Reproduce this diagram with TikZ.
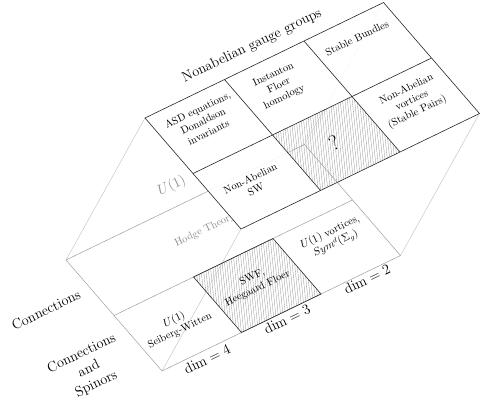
\documentclass[tikz,border=0pt]{standalone}
\usetikzlibrary{patterns.meta}
\definecolor{topline}{gray}{0.15}
\definecolor{botline}{gray}{0.62}
\definecolor{vertline}{gray}{0.78}
\definecolor{faintext}{gray}{0.55}
\begin{document}
\begin{tikzpicture}[x=1pt,y=1pt,
  celltext/.style={align=center, inner sep=0pt, rotate=25.8, font=\fontsize{10.5}{12.5}\selectfont},
  bigtext/.style={align=center, inner sep=0pt, rotate=25.8, font=\fontsize{14.2}{17}\selectfont},
  hatch/.style={pattern={Lines[angle=96,distance=2.4pt,line width=0.35pt]}, pattern color=gray!80},
  topgrid/.style={draw=topline, line width=0.6pt},
  botgrid/.style={draw=botline, line width=0.5pt},
  vedge/.style={draw=vertline, line width=0.5pt}]
\useasboundingbox (0,0) rectangle (480,-400);
\begin{scope}[shift={(145pt,-118pt)}, x={(79.5pt,38.5pt)}, y={(48pt,-55.5pt)}, z={(-79pt,-142pt)}]
\foreach \a in {0,1,2,3}{\foreach \b in {0,1,2}{
  \coordinate (t\a\b) at (\a,\b,0);
  \coordinate (b\a\b) at (\a,\b,1);}}
\end{scope}
% vertical edges
\draw[vedge] (t00) -- (b00);
\draw[vedge] (t02) -- (b02);
\draw[vedge] (t32) -- (b32);
\draw[vedge] (t30) -- (b30);
% bottom plane (U(1))
\fill[hatch] (b11) -- (b21) -- (b22) -- (b12) -- cycle;
\draw[botgrid] (b00) -- (b30) -- (b32) -- (b02) -- cycle (b01) -- (b31);
\draw[topgrid] (b11) -- (b21) -- (b22) -- (b12) -- cycle;
\node[celltext] (usw) at (177,-325) {$U(1)$\\Seiberg-Witten};
\node[celltext] (swf) at (255,-283) {SWF,\\Heegaard Floer};
\node[celltext] (uvort) at (333,-238) {$U(1)$ vortices,\\$Sym^d(\Sigma_g)$};
\node[celltext, text=faintext] (hodge) at (205,-230) {Hodge Theory};
\node[bigtext, text=faintext] (ulab) at (172,-186) {$U(1)$};
% top plane (nonabelian)
\fill[white, fill opacity=0.9, even odd rule] (t00) -- (t30) -- (t32) -- (t02) -- cycle (t11) -- (t21) -- (t22) -- (t12) -- cycle;
\fill[hatch] (t11) -- (t21) -- (t22) -- (t12) -- cycle;
\draw[topgrid] (t00) -- (t30) -- (t32) -- (t02) -- cycle (t01) -- (t31) (t10) -- (t12) (t20) -- (t22);
\node[celltext] (asd) at (203,-121) {ASD equations,\\Donaldson\\invariants};
\node[celltext] (inst) at (279,-86) {Instanton\\Floer\\homology};
\node[celltext] (stab) at (357,-38) {Stable Bundles};
\node[celltext] (nasw) at (253,-184) {Non-Abelian\\SW};
\node[celltext, font=\fontsize{21}{24}\selectfont] (quest) at (334,-143) {?};
\node[celltext] (navort) at (412,-101) {Non-Abelian\\vortices\\(Stable Pairs)};
% labels
\node[bigtext] (nonab) at (252,-46) {Nonabelian gauge groups};
\node[bigtext] (conn) at (46,-310) {Connections};
\node[bigtext] (connsp) at (89,-369) {Connections\\and\\Spinors};
\node[bigtext] (d4) at (207,-359) {$\dim = 4$};
\node[bigtext] (d3) at (287,-319) {$\dim = 3$};
\node[bigtext] (d2) at (367,-279) {$\dim = 2$};
\end{tikzpicture}
\end{document}
